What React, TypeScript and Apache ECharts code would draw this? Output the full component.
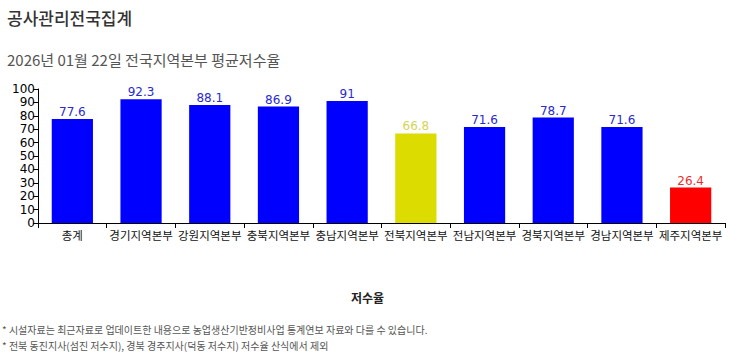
import React, { useEffect, useRef } from "react";
import * as echarts from "echarts";

const categories = ["총계", "경기지역본부", "강원지역본부", "충북지역본부", "충남지역본부", "전북지역본부", "전남지역본부", "경북지역본부", "경남지역본부", "제주지역본부"];
const values = [77.6, 92.3, 88.1, 86.9, 91, 66.8, 71.6, 78.7, 71.6, 26.4];
const barColors = ["#0000ff", "#0000ff", "#0000ff", "#0000ff", "#0000ff", "#dcdc00", "#0000ff", "#0000ff", "#0000ff", "#ff0000"];
const labelColors = ["#2a2ad0", "#2a2ad0", "#2a2ad0", "#2a2ad0", "#2a2ad0", "#d4d455", "#2a2ad0", "#2a2ad0", "#2a2ad0", "#e83030"];
const title = "공사관리전국집계";
const subtitle = "2026년 01월 22일 전국지역본부 평균저수율";
const xName = "저수율";
const notes = [
  "* 시설자료는 최근자료로 업데이트한 내용으로 농업생산기반정비사업 통계연보 자료와 다를 수 있습니다.",
  "* 전북 동진지사(섬진 저수지), 경북 경주지사(덕동 저수지) 저수율 산식에서 제외",
];

const FONT = "'DejaVu Sans', 'Noto Sans CJK KR', sans-serif";
const KFONT = "'Noto Sans CJK KR', sans-serif";

export default function App() {
  const ref = useRef<HTMLDivElement>(null);
  useEffect(() => {
    document.body.style.margin = "0";
    const chart = echarts.init(ref.current!, null, { renderer: "svg" });
    chart.setOption({
      animation: false,
      backgroundColor: "#ffffff",
      grid: { left: 38, right: 5, top: 89, bottom: 136, containLabel: false },
      title: [
        { text: title, left: 2, top: 4, textStyle: { fontSize: 17, fontWeight: 500, color: "#333", fontFamily: KFONT } },
        { text: subtitle, left: 2, top: 47, textStyle: { fontSize: 15, fontWeight: "normal", color: "#555", fontFamily: KFONT } },
      ],
      graphic: [
        { type: "text", left: 351, top: 291, style: { text: xName, font: `bold 12px ${KFONT}`, fill: "#222" } },
        { type: "text", left: 2, top: 324, style: { text: notes[0], font: `10px ${KFONT}`, fill: "#555" } },
        { type: "text", left: 2, top: 340, style: { text: notes[1], font: `10px ${KFONT}`, fill: "#555" } },
      ],
      xAxis: {
        type: "category",
        data: categories,
        axisLine: { lineStyle: { color: "#000", width: 1 } },
        axisTick: { show: true, length: 5, lineStyle: { color: "#000" } },
        axisLabel: { color: "#111", fontSize: 11.5, fontFamily: KFONT, margin: 6, interval: 0 },
      },
      yAxis: {
        type: "value",
        min: 0,
        max: 100,
        interval: 10,
        splitLine: { show: false },
        axisLine: { show: true, lineStyle: { color: "#000", width: 1 } },
        axisTick: { show: true, length: 5, lineStyle: { color: "#000" } },
        axisLabel: { color: "#000", fontSize: 12, fontFamily: FONT, margin: 3 },
      },
      series: [
        {
          type: "bar",
          barWidth: "60%",
          data: values.map((v, i) => ({
            value: v,
            itemStyle: { color: barColors[i] },
            label: { color: labelColors[i] },
          })),
          label: { show: true, position: "top", distance: 1, fontSize: 12, fontFamily: FONT },
        },
      ],
    });
    return () => chart.dispose();
  }, []);
  return <div ref={ref} style={{ width: 730, height: 359 }} />;
}
